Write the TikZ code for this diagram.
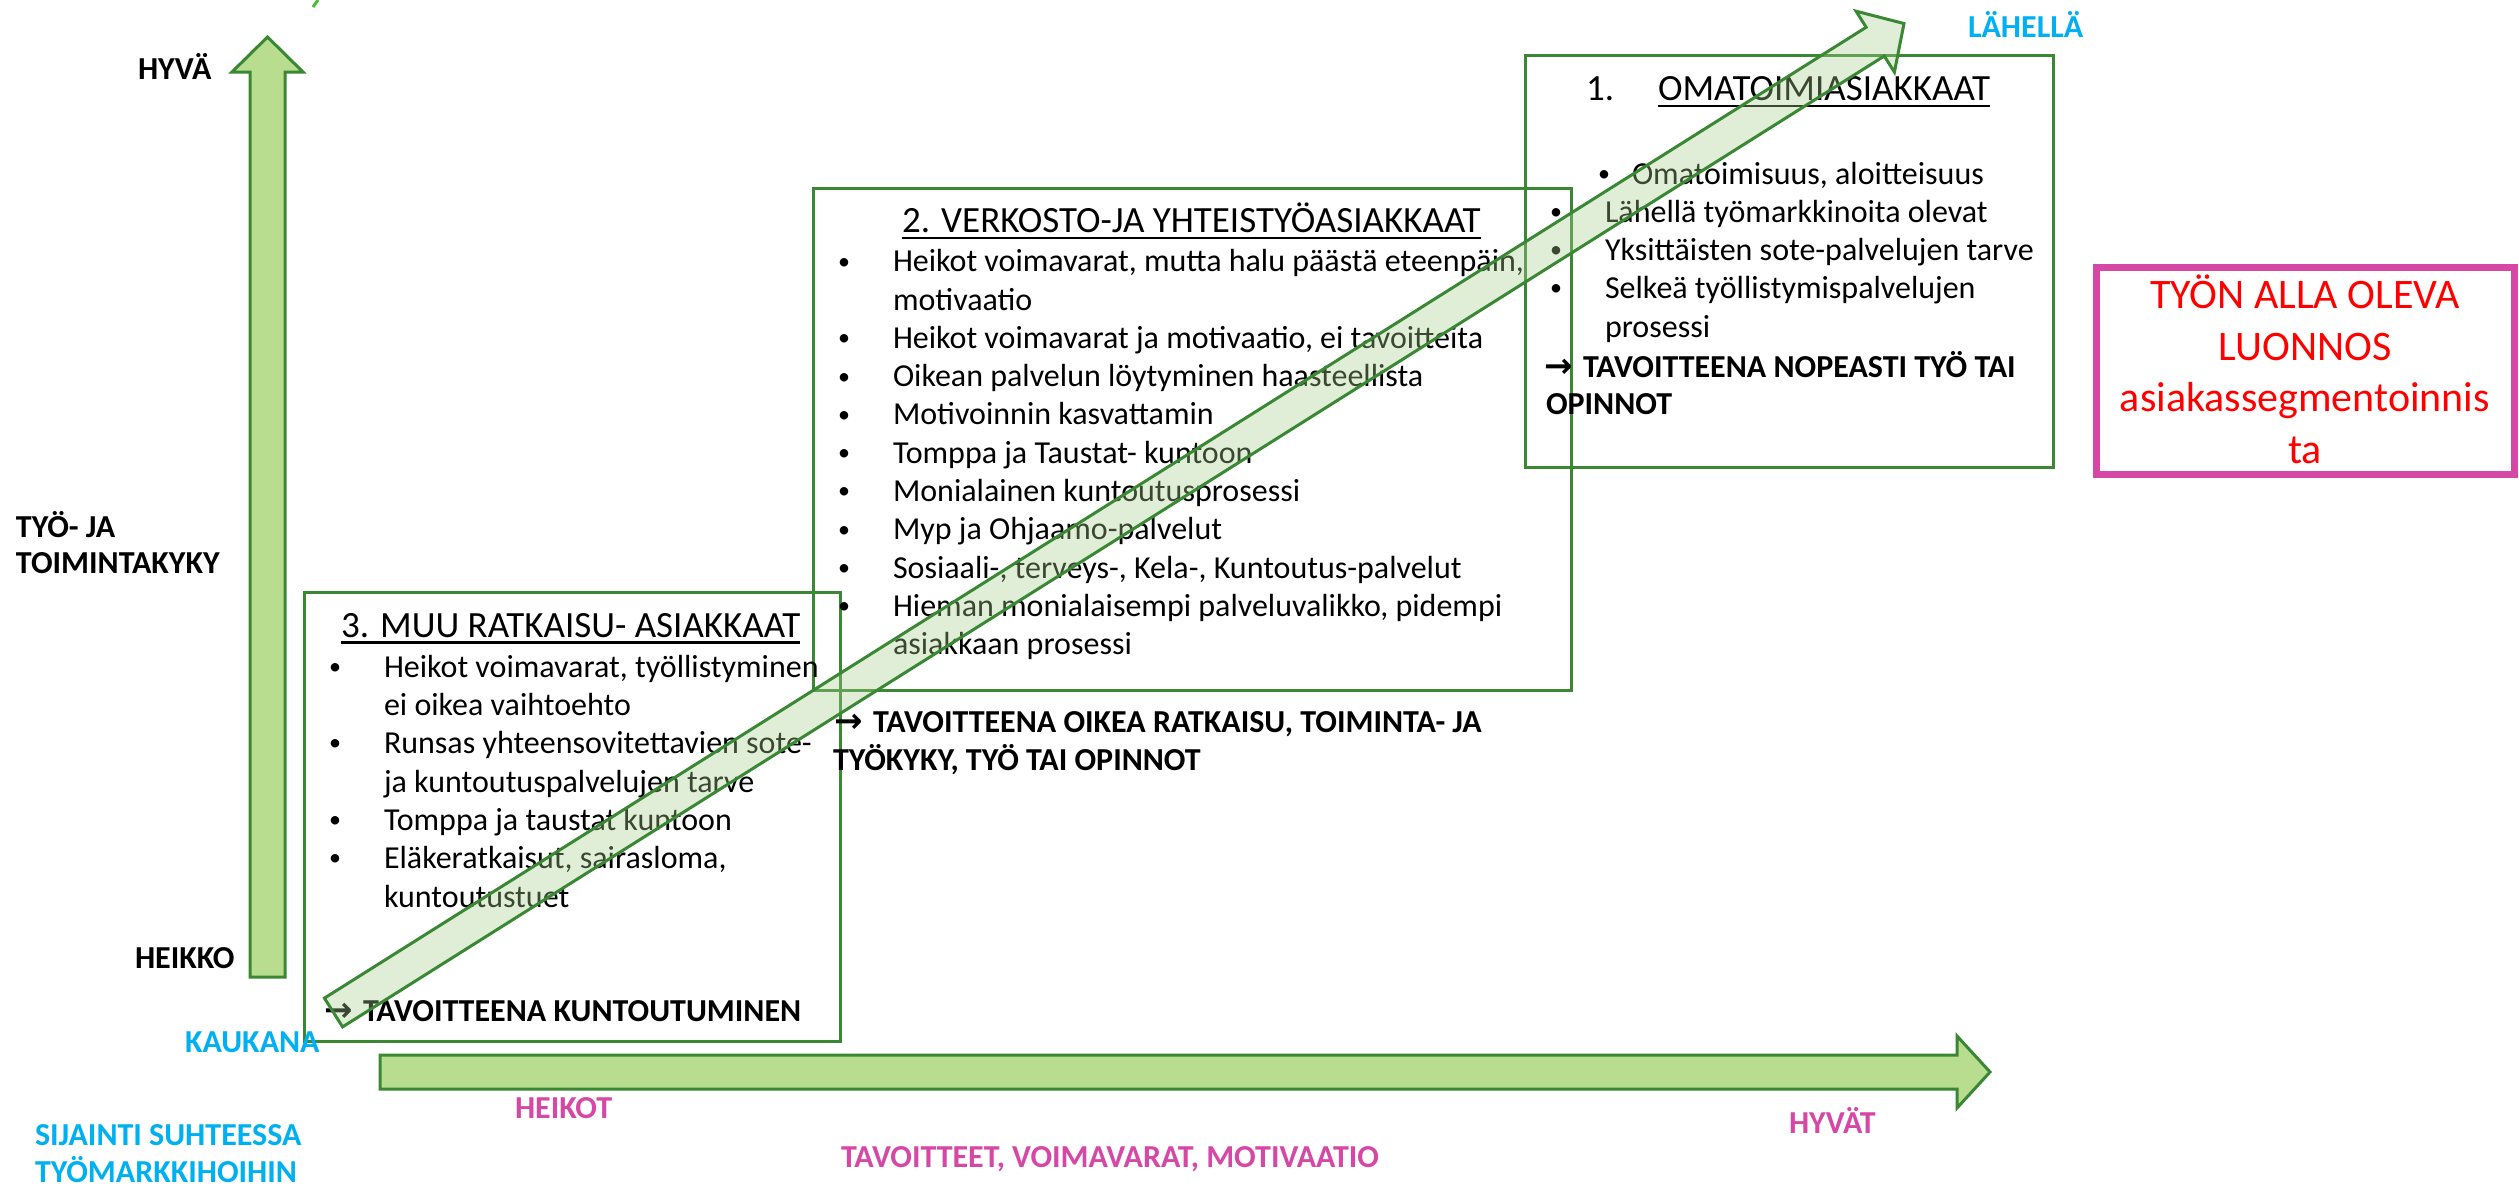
\documentclass[tikz,border=0pt]{standalone}
\usepackage{fontspec}
\setmainfont{Carlito}
\newfontfamily\symf{DejaVu Sans}
\usetikzlibrary{calc}
\definecolor{bgreen}{RGB}{58,135,52}
\definecolor{agreen}{RGB}{184,221,143}
\definecolor{dgreen}{RGB}{169,209,142}
\definecolor{lcyan}{RGB}{0,176,240}
\definecolor{lmag}{RGB}{214,72,166}
\definecolor{tgreen}{RGB}{80,185,60}
\newcommand\bodyf{\fontsize{32}{38.3}\selectfont}
\newcommand\ttlf{\fontsize{37}{45}\selectfont}
\newcommand\lblf{\fontsize{32}{38}\selectfont\bfseries}
\newcommand\redf{\fontsize{42}{51.7}\selectfont}
\newcommand\dotb{\raisebox{2.6pt}{\scalebox{0.75}{•}}}
\newcommand\bu{\makebox[55pt][l]{\dotb}}
\newcommand\arr{\makebox[39pt][l]{\symf\bfseries\fontsize{34}{34}\selectfont →}}
\begin{document}
\begin{tikzpicture}[x=1pt,y=-1pt,
  txt/.style={inner sep=0pt, outer sep=0pt, anchor=base west, font=\bodyf},
  goal/.style={txt, font={\bodyf\bfseries}},
  ttl/.style={txt, font=\ttlf},
  lbl/.style={inner sep=0pt, outer sep=0pt, anchor=base west, font=\lblf},
  redtxt/.style={inner sep=0pt, outer sep=0pt, anchor=base, font=\redf, text=red},
  boxframe/.style={draw=bgreen, line width=3pt},
  bigarrow/.style={draw=bgreen, line width=3pt, fill=agreen, line join=miter},
  diagarrow/.style={draw=bgreen, line width=3pt, fill=dgreen, fill opacity=0.35, draw opacity=1, line join=miter},
  uline/.style={line width=2.5pt, black}]
\useasboundingbox (0,0) rectangle (2519,1186);
\fill[white] (0,0) rectangle (2519,1186);

% partial glyph at top edge
\draw[tgreen, line width=3pt] (318,0) -- (313,7);

% axis arrows
\draw[bigarrow] (250,977) -- (250,72) -- (232,72) -- (267.5,37) -- (303,72) -- (285,72) -- (285,977) -- cycle;
\draw[bigarrow] (380,1055) -- (1957,1055) -- (1957,1036) -- (1990,1072) -- (1957,1108) -- (1957,1089) -- (380,1089) -- cycle;

% boxes
\draw[boxframe] (304,592) rectangle (840,1041);
\draw[boxframe] (813,188) rectangle (1571,690);
\draw[boxframe] (1525,55) rectangle (2053,467);

% axis labels
\node[lbl] (hyva) at (138,79) {HYVÄ};
\node[lbl] (tyo) at (16,537) {TYÖ- JA};
\node[lbl] (toim) at (16,573) {TOIMINTAKYKY};
\node[lbl] (heikko) at (135,968) {HEIKKO};
\node[lbl, text=lcyan] (lahella) at (1968,37) {LÄHELLÄ};
\node[lbl, text=lcyan] (kaukana) at (185,1052) {KAUKANA};
\node[lbl, text=lcyan] (sij1) at (35,1145) {SIJAINTI SUHTEESSA};
\node[lbl, text=lcyan] (sij2) at (35,1182) {TYÖMARKKIHOIHIN};
\node[lbl, text=lmag] (heikot) at (515,1118) {HEIKOT};
\node[lbl, text=lmag] (tavo) at (841,1167) {TAVOITTEET, VOIMAVARAT, MOTIVAATIO};
\node[lbl, text=lmag] (hyvat) at (1789,1133) {HYVÄT};

% box 2
\node[ttl] (t2) at (902,232) {2. VERKOSTO-JA YHTEISTYÖASIAKKAAT};
\draw[uline] ($(t2.base west)+(0,6)$) -- ($(t2.base east)+(0,6)$);
\node[txt] (b2a) at (838,271.7) {\bu Heikot voimavarat, mutta halu päästä eteenpäin,};
\node[txt] (b2b) at (893,310) {motivaatio};
\node[txt] (b2c) at (838,348.3) {\bu Heikot voimavarat ja motivaatio, ei tavoitteita};
\node[txt] (b2d) at (838,386.6) {\bu Oikean palvelun löytyminen haasteellista};
\node[txt] (b2e) at (838,424.9) {\bu Motivoinnin kasvattamin};
\node[txt] (b2f) at (838,463.2) {\bu Tomppa ja Taustat- kuntoon};
\node[txt] (b2g) at (838,501.5) {\bu Monialainen kuntoutusprosessi};
\node[txt] (b2h) at (838,539.8) {\bu Myp ja Ohjaamo-palvelut};
\node[txt] (b2i) at (838,578.1) {\bu Sosiaali-, terveys-, Kela-, Kuntoutus-palvelut};
\node[txt] (b2j) at (838,616.4) {\bu Hieman monialaisempi palveluvalikko, pidempi};
\node[txt] (b2k) at (893,654.7) {asiakkaan prosessi};
\node[goal] (g2a) at (834,732) {\arr TAVOITTEENA OIKEA RATKAISU, TOIMINTA- JA};
\node[goal] (g2b) at (833,770) {TYÖKYKY, TYÖ TAI OPINNOT};

% box 3
\node[ttl] (t3) at (341,637) {3. MUU RATKAISU- ASIAKKAAT};
\draw[uline] ($(t3.base west)+(0,5.5)$) -- ($(t3.base east)+(0,5.5)$);
\node[txt] (b3a) at (329,677) {\bu Heikot voimavarat, työllistyminen};
\node[txt] (b3b) at (384,715) {ei oikea vaihtoehto};
\node[txt] (b3c) at (329,753) {\bu Runsas yhteensovitettavien sote-};
\node[txt] (b3d) at (384,792) {ja kuntoutuspalvelujen tarve};
\node[txt] (b3e) at (329,830) {\bu Tomppa ja taustat kuntoon};
\node[txt] (b3f) at (329,868) {\bu Eläkeratkaisut, sairasloma,};
\node[txt] (b3g) at (384,907) {kuntoutustuet};
\node[goal] (g3) at (324,1021) {\arr TAVOITTEENA KUNTOUTUMINEN};

% box 1
\node[ttl] (t1n) at (1586,100) {1.};
\node[ttl] (t1) at (1658,100) {OMATOIMIASIAKKAAT};
\draw[uline] ($(t1.base west)+(0,6)$) -- ($(t1.base east)+(0,6)$);
\node[txt] (b1a) at (1598,184) {\makebox[34pt][l]{\dotb}Omatoimisuus, aloitteisuus};
\node[txt] (b1b) at (1550,222) {\bu Lähellä työmarkkinoita olevat};
\node[txt] (b1c) at (1550,260) {\bu Yksittäisten sote-palvelujen tarve};
\node[txt] (b1d) at (1550,298) {\bu Selkeä työllistymispalvelujen};
\node[txt] (b1e) at (1605,337) {prosessi};
\node[goal] (g1a) at (1544,377) {\arr TAVOITTEENA NOPEASTI TYÖ TAI};
\node[goal] (g1b) at (1546,414) {OPINNOT};

% diagonal arrow (semi-transparent, on top)
\begin{scope}[shift={(333.5,1012.5)}, rotate=32.2]
\draw[diagarrow] (0,-17) -- (1822,-17) -- (1822,-36) -- (1856,0) -- (1822,36) -- (1822,17) -- (0,17) -- cycle;
\end{scope}

% draft note box
\draw[lmag, line width=7pt] (2096,267) rectangle (2514,474);
\node[redtxt] (r1) at (2305,308) {TYÖN ALLA OLEVA};
\node[redtxt] (r2) at (2305,360) {LUONNOS};
\node[redtxt] (r3) at (2305,411) {asiakassegmentoinnis};
\node[redtxt] (r4) at (2305,463) {ta};
\end{tikzpicture}
\end{document}
